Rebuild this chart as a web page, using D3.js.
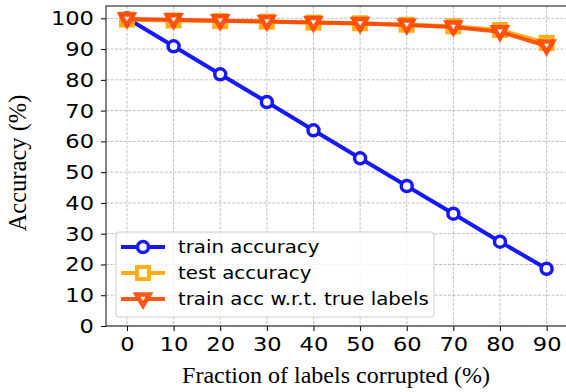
<!DOCTYPE html>
<html><head><meta charset="utf-8">
<script src="https://cdn.jsdelivr.net/npm/d3@7"></script>
<style>body{margin:0;background:#fff}svg{display:block}</style>
</head><body>
<script>
const fractions = [0,10,20,30,40,50,60,70,80,90];
const trainAcc = [100,90.9,81.8,72.8,63.6,54.5,45.5,36.5,27.4,18.6];
const testAcc = [99.6,99.3,99.1,98.9,98.6,98.4,97.9,97.4,96.2,92.0];
const trueAcc = [99.8,99.5,99.2,99.0,98.6,98.3,97.8,97.2,95.6,91.0];
const xTicks = [0,10,20,30,40,50,60,70,80,90];
const yTicks = [0,10,20,30,40,50,60,70,80,90,100];
const seriesNames = ["train accuracy","test accuracy","train acc w.r.t. true labels"];

const W=566,H=392, SX=1.13;
const svg=d3.select("body").append("svg").attr("width",W).attr("height",H);
const x=d3.scaleLinear().domain([-4.5,94.5]).range([106,567.6]);
const y=d3.scaleLinear().domain([0,104]).range([326,6]);

const g=svg.append("g");
g.selectAll(".gx").data(xTicks).enter().append("line")
 .attr("x1",d=>x(d)).attr("x2",d=>x(d)).attr("y1",6).attr("y2",326)
 .attr("stroke","#b0b0b0").attr("stroke-width",0.8).attr("stroke-dasharray","3,1.5");
g.selectAll(".gy").data(yTicks).enter().append("line")
 .attr("x1",106).attr("x2",567).attr("y1",d=>y(d)).attr("y2",d=>y(d))
 .attr("stroke","#b0b0b0").attr("stroke-width",0.8).attr("stroke-dasharray","3,1.5");

const xAxis=d3.axisBottom(x).tickValues(xTicks).tickSize(5).tickPadding(6);
const yAxis=d3.axisLeft(y).tickValues(yTicks).tickSize(5).tickPadding(7);
const ax=svg.append("g").attr("transform","translate(0,326)").call(xAxis);
const ay=svg.append("g").attr("transform","translate(106,0)").call(yAxis);
[ax,ay].forEach(a=>{
  a.select(".domain").remove();
  a.selectAll("text").attr("font-family","DejaVu Sans").attr("font-size",20).attr("fill","#000");
  a.selectAll("line").attr("stroke","#000").attr("stroke-width",1);
});
ax.selectAll("text").attr("transform",`scale(${SX},1)`);
ay.selectAll("text").attr("x",-12/SX).attr("transform",`scale(${SX},1)`);

svg.append("rect").attr("x",106).attr("y",6).attr("width",567.6-106).attr("height",320)
 .attr("fill","none").attr("stroke","#333").attr("stroke-width",1.2);

const line=d3.line().x((d,i)=>x(fractions[i])).y(d=>y(d));
const series=[
 {vals:trainAcc,color:"#0000ff",marker:"circle"},
 {vals:testAcc,color:"#ffa500",marker:"square"},
 {vals:trueAcc,color:"#ff4500",marker:"tri"}
];
function drawMarker(sel,type,color){
  if(type==="circle"){
    sel.append("circle").attr("r",5.5).attr("fill","#fff").attr("stroke",color).attr("stroke-width",3.5);
  } else if(type==="square"){
    sel.append("rect").attr("x",-6).attr("y",-6).attr("width",12).attr("height",12)
      .attr("fill","#fff").attr("stroke",color).attr("stroke-width",4);
  } else {
    sel.append("path").attr("d","M-6.5,-4.5 L6.5,-4.5 L0,6.5 Z")
      .attr("fill","#fff").attr("stroke",color).attr("stroke-width",4.5).attr("stroke-linejoin","miter");
  }
}
const plot=svg.append("g");
series.forEach(s=>{
  const sg=plot.append("g").attr("opacity",0.9);
  sg.append("path").datum(s.vals).attr("d",line).attr("fill","none")
    .attr("stroke",s.color).attr("stroke-width",4);
  s.vals.forEach((v,i)=>{
    const m=sg.append("g").attr("transform",`translate(${x(fractions[i])},${y(v)})`);
    drawMarker(m,s.marker,s.color);
  });
});

const lg=svg.append("g");
lg.append("rect").attr("x",116).attr("y",232).attr("width",318).attr("height",85).attr("rx",3)
 .attr("fill","#fff").attr("fill-opacity",0.8).attr("stroke","#cccccc").attr("stroke-width",1);
series.forEach((s,i)=>{
  const yy=247+i*26;
  const r=lg.append("g").attr("opacity",0.9);
  r.append("line").attr("x1",121).attr("x2",165).attr("y1",yy).attr("y2",yy)
   .attr("stroke",s.color).attr("stroke-width",4);
  const m=r.append("g").attr("transform",`translate(143,${yy})`);
  drawMarker(m,s.marker,s.color);
  lg.append("text").attr("transform",`translate(178,${yy}) scale(${SX},1)`).attr("dy","0.35em")
   .attr("font-family","DejaVu Sans").attr("font-size",17.5).attr("fill","#000").text(seriesNames[i]);
});

svg.append("text").attr("x",336).attr("y",383).attr("text-anchor","middle")
 .attr("font-family","Liberation Serif").attr("font-size",24).attr("fill","#000")
 .text("Fraction of labels corrupted (%)");
svg.append("text").attr("transform","translate(26,163) rotate(-90)").attr("text-anchor","middle")
 .attr("font-family","Liberation Serif").attr("font-size",24.5).attr("fill","#000")
 .text("Accuracy (%)");
</script>
</body></html>
